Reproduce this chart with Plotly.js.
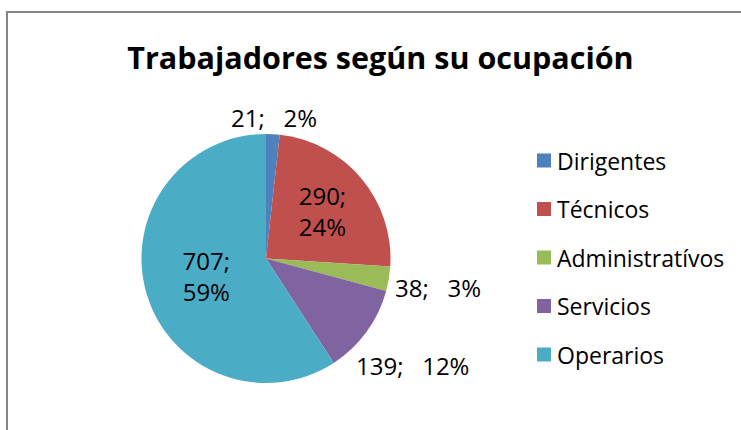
<!DOCTYPE html>
<html>
<head>
<meta charset="utf-8">
<script src="https://cdn.plot.ly/plotly-3.0.1.min.js"></script>
<style>html,body{margin:0;padding:0;background:#fff;}#chart{width:741px;height:430px;}</style>
</head>
<body>
<div id="chart"></div>
<script>
const chartTitle = 'Trabajadores según su ocupación';
const labels = ['Dirigentes', 'Técnicos', 'Administratívos', 'Servicios', 'Operarios'];
const values = [21, 290, 38, 139, 707];
const colors = ['#4F81BD', '#C0504D', '#9BBB59', '#8064A2', '#4BACC6'];
const labelPlacement = ['outside', 'inside', 'outside', 'outside', 'inside'];

const FONT = '"Open Sans", sans-serif';
const LABEL_SIZE = 24, LEGEND_SIZE = 23, TITLE_SIZE = 30.5;
const W = 741, H = 430;
const cx = 266, cy = 258.5, r = 124.5;

const total = values.reduce((a, b) => a + b, 0);
const pct = v => Math.round(v / total * 100) + '%';
const SEP = ';\u00a0\u00a0\u00a0';

const trace = {
  type: 'pie',
  labels: labels,
  values: values,
  sort: false,
  direction: 'clockwise',
  rotation: 0,
  marker: {colors: colors, line: {width: 0}},
  textposition: labelPlacement.map(p => p === 'inside' ? 'inside' : 'none'),
  texttemplate: labelPlacement.map(p => p === 'inside' ? '%{value};<br>%{percent:.0%}' : ''),
  insidetextorientation: 'horizontal',
  insidetextfont: {family: FONT, size: LABEL_SIZE, color: '#000'},
  textfont: {family: FONT, size: LABEL_SIZE, color: '#000'},
  domain: {x: [(cx - r) / W, (cx + r) / W], y: [1 - (cy + r) / H, 1 - (cy - r) / H]},
  showlegend: false,
  hoverinfo: 'none'
};

// measure text for outside label placement
const ctx = document.createElement('canvas').getContext('2d');
ctx.font = LABEL_SIZE + 'px "Open Sans"';

const shapes = [{
  type: 'rect', xref: 'paper', yref: 'paper',
  x0: 7 / W, x1: 1.02, y0: -0.02, y1: 1 - 12 / H,
  line: {color: '#868686', width: 2}, fillcolor: 'rgba(0,0,0,0)'
}];
const annotations = [];

// outside data labels, placed just outside the slice along its mid-angle
let cum = 0;
values.forEach((v, i) => {
  const mid = (cum + v / 2) / total * 2 * Math.PI;
  cum += v;
  if (labelPlacement[i] !== 'outside') return;
  const txt = v + SEP + pct(v);
  const w = ctx.measureText(txt).width, h = LABEL_SIZE * 0.72;
  const ux = Math.sin(mid), uy = Math.cos(mid); // uy: upward
  const R = r + 6;
  const ext = Math.abs(ux) * w / 2 + Math.abs(uy) * h / 2;
  const px = cx + (R + ext) * ux;
  const py = cy - (R + ext) * uy;
  annotations.push({
    xref: 'paper', yref: 'paper', x: px / W, y: 1 - py / H,
    xanchor: 'center', yanchor: 'middle', showarrow: false,
    text: txt, font: {family: FONT, size: LABEL_SIZE, color: '#000'}
  });
});

// legend
const legX = 537, legY0 = 160.5, legStep = 48.5, sq = 14;
labels.forEach((lab, i) => {
  const y = legY0 + i * legStep;
  shapes.push({
    type: 'rect', xref: 'paper', yref: 'paper',
    x0: legX / W, x1: (legX + sq) / W, y0: 1 - (y + sq / 2) / H, y1: 1 - (y - sq / 2) / H,
    line: {width: 0}, fillcolor: colors[i]
  });
  annotations.push({
    xref: 'paper', yref: 'paper', x: (legX + sq + 4) / W, y: 1 - y / H,
    xanchor: 'left', yanchor: 'middle', showarrow: false,
    text: lab, font: {family: FONT, size: LEGEND_SIZE, color: '#000'}
  });
});

const layout = {
  width: W, height: H,
  margin: {l: 0, r: 0, t: 0, b: 0},
  paper_bgcolor: '#fff',
  title: {text: '<b>' + chartTitle + '</b>', font: {family: FONT, size: TITLE_SIZE, color: '#000'},
          x: 380.5 / W, xanchor: 'center', y: 1 - 58 / H, yanchor: 'middle'},
  showlegend: false,
  shapes: shapes,
  annotations: annotations,
  hovermode: false
};

Plotly.newPlot('chart', [trace], layout, {displayModeBar: false, staticPlot: true});
</script>
</body>
</html>
